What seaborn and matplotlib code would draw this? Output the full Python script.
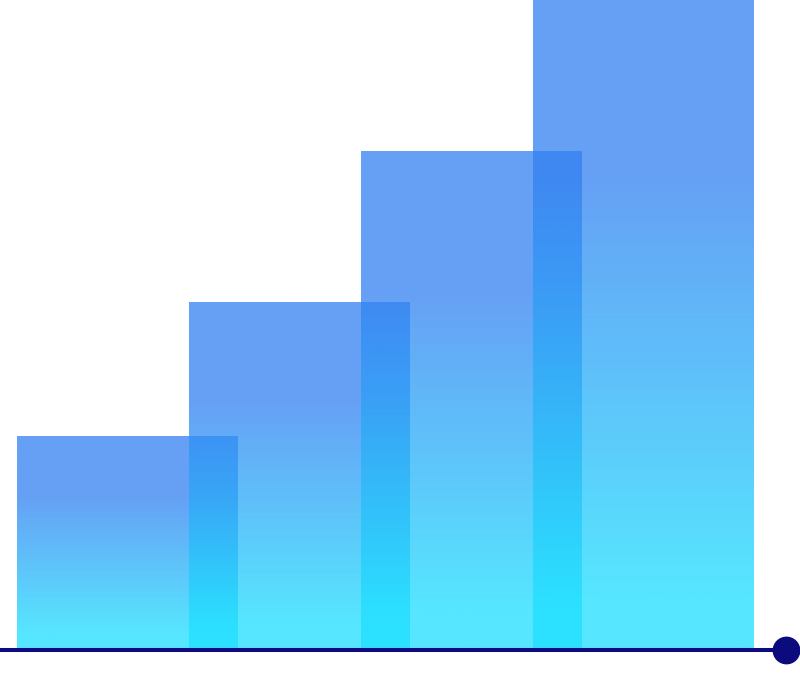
import numpy as np
import pandas as pd
import matplotlib
matplotlib.use("Agg")
import matplotlib.pyplot as plt
import seaborn as sns

categories = ["A", "B", "C", "D"]
values = [214, 348, 499, 660]

top_rgb = np.array([51, 128, 242]) / 255.0
bot_rgb = np.array([30, 222, 255]) / 255.0
bar_alpha = 0.75
line_color = "#0B0B7E"

sns.set_theme(style="white")
fig = plt.figure(figsize=(8, 6.82), dpi=100)
ax = fig.add_axes([0, 0, 1, 1])

df = pd.DataFrame({"cat": categories, "val": values})
sns.barplot(data=df, x="cat", y="val", width=1.282, ax=ax, color="white")

spacing = 172.0
c0 = 127.3
ax.set_xlim(-c0 / spacing, (800 - c0) / spacing)
ax.set_ylim(-32, 650)

patches = list(ax.patches)
for p in patches:
    x0, y0 = p.get_x(), p.get_y()
    w, h = p.get_width(), p.get_height()
    p.set_visible(False)
    n = 256
    t = np.linspace(0, 1, n)  # 0 bottom, 1 top
    ft = 1 - t
    mix = np.clip((ft - 0.28) / 0.64, 0, 1)
    cols = top_rgb[None, :] * (1 - mix[:, None]) + bot_rgb[None, :] * mix[:, None]
    rgba = np.concatenate([cols, np.full((n, 1), bar_alpha)], axis=1)
    img = rgba[:, None, :]
    ax.imshow(img, extent=(x0, x0 + w, y0, y0 + h), origin="lower",
              aspect="auto", interpolation="bilinear", zorder=2)

ax.set_xlim(-c0 / spacing, (800 - c0) / spacing)
ax.set_ylim(-32, 650)

x_end = (786 - c0) / spacing
ax.plot([-c0 / spacing, x_end], [0, 0], color=line_color, lw=2.9, zorder=5,
        solid_capstyle="butt")
ax.plot([x_end], [0], marker="o", markersize=19, color=line_color, zorder=6)
ax.axis("off")

fig.savefig("out.png", dpi=100)
